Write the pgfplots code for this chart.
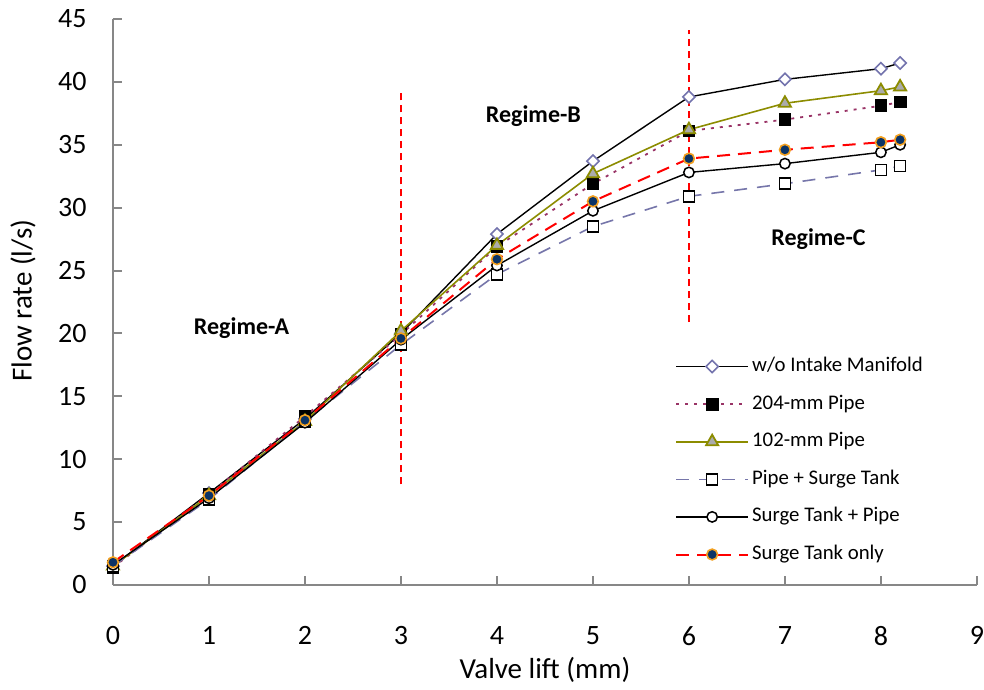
\documentclass[border=0pt]{standalone}
\usepackage{fontspec}
\setmainfont{Carlito}
\usepackage{pgfplots}
\pgfplotsset{compat=1.18}
\definecolor{diam}{HTML}{7373AD}
\definecolor{plum}{HTML}{993366}
\definecolor{olive}{HTML}{8C8C00}
\definecolor{trifill}{HTML}{ABABAB}
\definecolor{slate}{HTML}{7676AA}
\definecolor{navy}{HTML}{0A3366}
\definecolor{orng}{HTML}{F2A020}
\definecolor{axgray}{HTML}{878787}

\begin{document}
\begin{tikzpicture}
\begin{axis}[
    scale only axis,
    width=432pt, height=283pt,
    xmin=0, xmax=9, ymin=0, ymax=45,
    xtick={0,...,9}, ytick={0,5,...,45},
    axis lines=left,
    axis line style={draw=axgray, line width=1pt, -},
    tick style={draw=axgray, line width=1pt},
    tick align=inside,
    major tick length=4.5pt,
    tick label style={font=\fontsize{14}{16}\selectfont, inner sep=0pt},
    xticklabel style={yshift=-20.5pt},
    yticklabel style={xshift=-13pt},
    /pgf/number format/assume math mode=true,
    xlabel={Valve lift (mm)},
    ylabel={Flow rate (l/s)},
    label style={font=\fontsize{14.5}{16}\selectfont},
    xlabel style={at={(axis description cs:0.5,0)}, anchor=center, yshift=-42.5pt},
    ylabel style={at={(axis description cs:0,0.502)}, anchor=center, yshift=45pt},
    legend style={draw=none, fill=none, at={(axis cs:5.79,18.75)}, anchor=north west,
        font=\fontsize{10.4}{12}\selectfont, row sep=5.8pt,
        nodes={inner sep=1.5pt, text height=7.5pt, text depth=2.5pt}},
    legend cell align=left,
    legend image code/.code={
        \draw[mark repeat=2, mark phase=2, #1] plot coordinates {(0pt,0pt) (18pt,0pt) (36pt,0pt)};},
    clip=false,
]
\addplot[black, line width=0.7pt, mark=square*, mark size=2.15pt,
    mark options={solid, rotate=45, draw=diam, fill=white, line width=0.8pt}]
coordinates {(0,1.5) (1,7.3) (2,13.2) (3,20.0) (4,27.9) (5,33.7) (6,38.8) (7,40.2) (8,41.05) (8.2,41.5)};
\addlegendentry{w/o Intake Manifold}

\addplot[plum, line width=0.9pt, dash pattern=on 1.5pt off 3pt, mark=square*, mark size=2.75pt,
    mark options={solid, draw=black, fill=black}]
coordinates {(0,1.4) (1,7.2) (2,13.4) (3,19.9) (4,26.9) (5,31.9) (6,36.1) (7,37.0) (8,38.1) (8.2,38.4)};
\addlegendentry{204-mm Pipe}

\addplot[olive, line width=0.8pt, mark=triangle*, mark size=3.5pt,
    mark options={solid, draw=olive, fill=trifill, line width=0.9pt}]
coordinates {(0,1.5) (1,7.1) (2,13.0) (3,20.2) (4,27.0) (5,32.7) (6,36.2) (7,38.3) (8,39.3) (8.2,39.6)};
\addlegendentry{102-mm Pipe}

\addplot[slate, line width=0.8pt, dash pattern=on 6.5pt off 5pt, mark=square*, mark size=2.75pt,
    mark options={solid, draw=black, fill=white, line width=0.75pt}]
coordinates {(0,1.5) (1,6.8) (2,13.0) (3,19.1) (4,24.7) (5,28.5) (6,30.9) (7,31.9) (8,33.0) (8.2,33.3)};
\addlegendentry{Pipe + Surge Tank}

\addplot[black, line width=0.7pt, mark=*, mark size=2.6pt,
    mark options={solid, draw=black, fill=white, line width=0.75pt}]
coordinates {(0,1.6) (1,6.9) (2,12.9) (3,19.5) (4,25.4) (5,29.75) (6,32.8) (7,33.5) (8,34.4) (8.2,35.0)};
\addlegendentry{Surge Tank + Pipe}

\addplot[red, line width=1pt, dash pattern=on 6.5pt off 4pt, mark=*, mark size=2.7pt,
    mark options={solid, draw=orng, fill=navy, line width=0.8pt}]
coordinates {(0,1.8) (1,7.1) (2,13.1) (3,19.6) (4,25.9) (5,30.5) (6,33.9) (7,34.6) (8,35.2) (8.2,35.4)};
\addlegendentry{Surge Tank only}

\addplot[draw=red, line width=1pt, dash pattern=on 3.5pt off 2.5pt, forget plot] coordinates {(3,8.0) (3,39.1)};
\addplot[draw=red, line width=1pt, dash pattern=on 3.5pt off 2.5pt, forget plot] coordinates {(6,20.9) (6,44.1)};

\node[font=\bfseries\fontsize{12}{14}\selectfont] at (axis cs:1.34,20.4) {Regime-A};
\node[font=\bfseries\fontsize{12}{14}\selectfont] at (axis cs:4.38,37.3) {Regime-B};
\node[font=\bfseries\fontsize{12}{14}\selectfont] at (axis cs:7.35,27.5) {Regime-C};

\path (rel axis cs:0,0) ++(-56.5pt,-48pt) (rel axis cs:1,1) ++(3.5pt,9.5pt);
\end{axis}
\end{tikzpicture}
\end{document}
